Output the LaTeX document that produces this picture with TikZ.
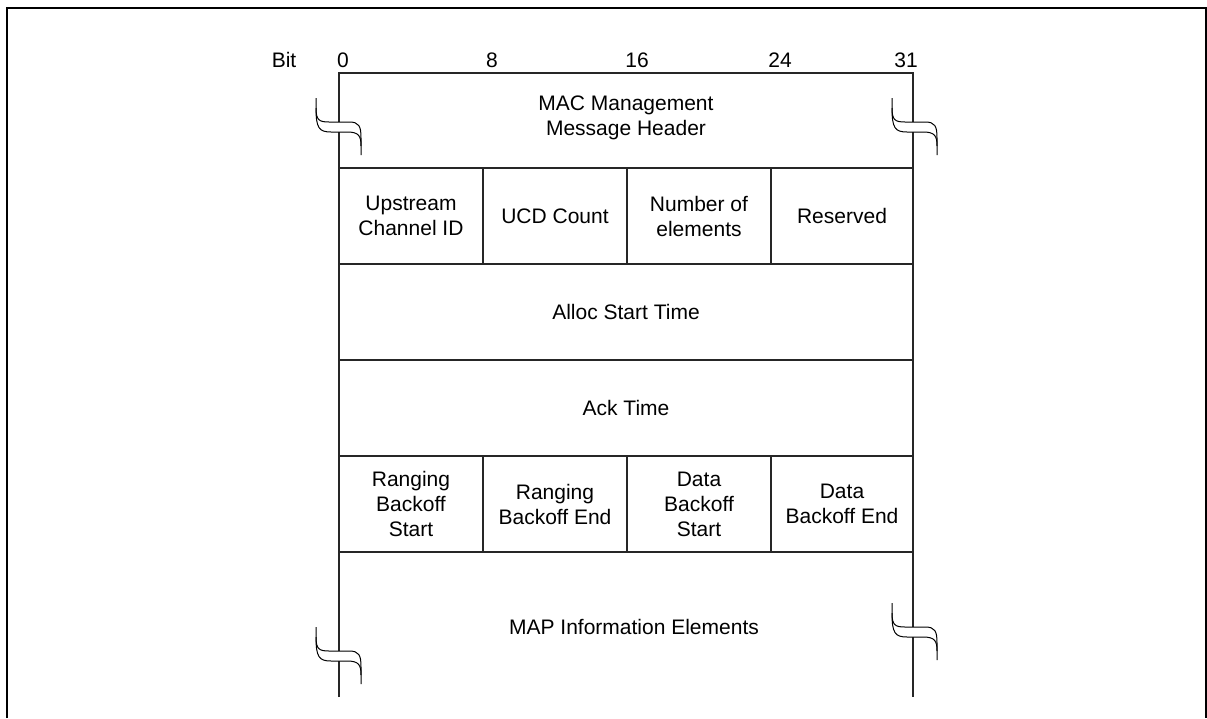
\documentclass[tikz,border=0pt]{standalone}
\usepackage{fontspec}
\setmainfont{Liberation Sans}
\newcommand\breaksym[2]{%
  \fill[white] ({#1-23},{#2+10}) .. controls ({#1-23},{#2+22}) and ({#1-20},{#2+24}) .. ({#1-10},{#2+24}) -- ({#1+10},{#2+24}) .. controls ({#1+20},{#2+24}) and ({#1+22},{#2+28}) .. ({#1+22},{#2+40}) -- ({#1+22},{#2+48}) .. controls ({#1+22},{#2+38}) and ({#1+20},{#2+34}) .. ({#1+8},{#2+34}) -- ({#1-8},{#2+34}) .. controls ({#1-20},{#2+34}) and ({#1-23},{#2+30}) .. ({#1-23},{#2+10}) -- cycle;
  \draw[brk] ({#1-23},{#2}) -- ({#1-23},{#2+10}) .. controls ({#1-23},{#2+22}) and ({#1-20},{#2+24}) .. ({#1-10},{#2+24}) -- ({#1+10},{#2+24}) .. controls ({#1+20},{#2+24}) and ({#1+22},{#2+28}) .. ({#1+22},{#2+40}) -- ({#1+22},{#2+57});
  \draw[brk] ({#1-23},{#2+10}) .. controls ({#1-23},{#2+30}) and ({#1-20},{#2+34}) .. ({#1-8},{#2+34}) -- ({#1+8},{#2+34}) .. controls ({#1+20},{#2+34}) and ({#1+22},{#2+38}) .. ({#1+22},{#2+48});
}
\begin{document}
\begin{tikzpicture}[x=1pt,y=-1pt,
  frame/.style={line width=2pt,black},
  grid/.style={line width=1.3pt,black!85},
  brk/.style={line width=1pt,black},
  lbl/.style={font=\fontsize{21}{25}\selectfont,align=center,inner sep=0pt},
]
\useasboundingbox (0,0) rectangle (1207,718);
\draw[frame] (7,718) -- (7,8) -- (1206,8) -- (1206,718);
% bit labels
\node[lbl] (bit) at (284,60) {Bit};
\node[lbl] (b0) at (343,60) {0};
\node[lbl] (b8) at (492,60) {8};
\node[lbl] (b16) at (637,60) {16};
\node[lbl] (b24) at (780,60) {24};
\node[lbl] (b31) at (906,60) {31};
% grid
\draw[grid] (339,697) -- (339,73) -- (913,73) -- (913,697);
\foreach \y in {168,264,360,456,552} \draw[grid] (339,\y) -- (913,\y);
\foreach \x in {483,627,771} {
  \draw[grid] (\x,168) -- (\x,264);
  \draw[grid] (\x,456) -- (\x,552);
}
% breaks
\breaksym{339}{98}
\breaksym{915}{98}
\breaksym{339}{627}
\breaksym{915}{603}
% texts
\node[lbl] (hdr) at (626,118) {MAC Management\\Message Header};
\node[lbl] (ucid) at (411,216) {Upstream\\Channel ID};
\node[lbl] (ucd) at (555,216) {UCD Count};
\node[lbl] (noe) at (699,216) {Number of\\elements};
\node[lbl] (res) at (842,216) {Reserved};
\node[lbl] (alloc) at (626,312) {Alloc Start Time};
\node[lbl] (ack) at (626,408) {Ack Time};
\node[lbl] (rbs) at (411,504) {Ranging\\Backoff\\Start};
\node[lbl] (rbe) at (555,504) {Ranging\\Backoff End};
\node[lbl] (dbs) at (699,504) {Data\\Backoff\\Start};
\node[lbl] (dbe) at (842,504) {Data\\Backoff End};
\node[lbl] (map) at (634,627) {MAP Information Elements};
\end{tikzpicture}
\end{document}
